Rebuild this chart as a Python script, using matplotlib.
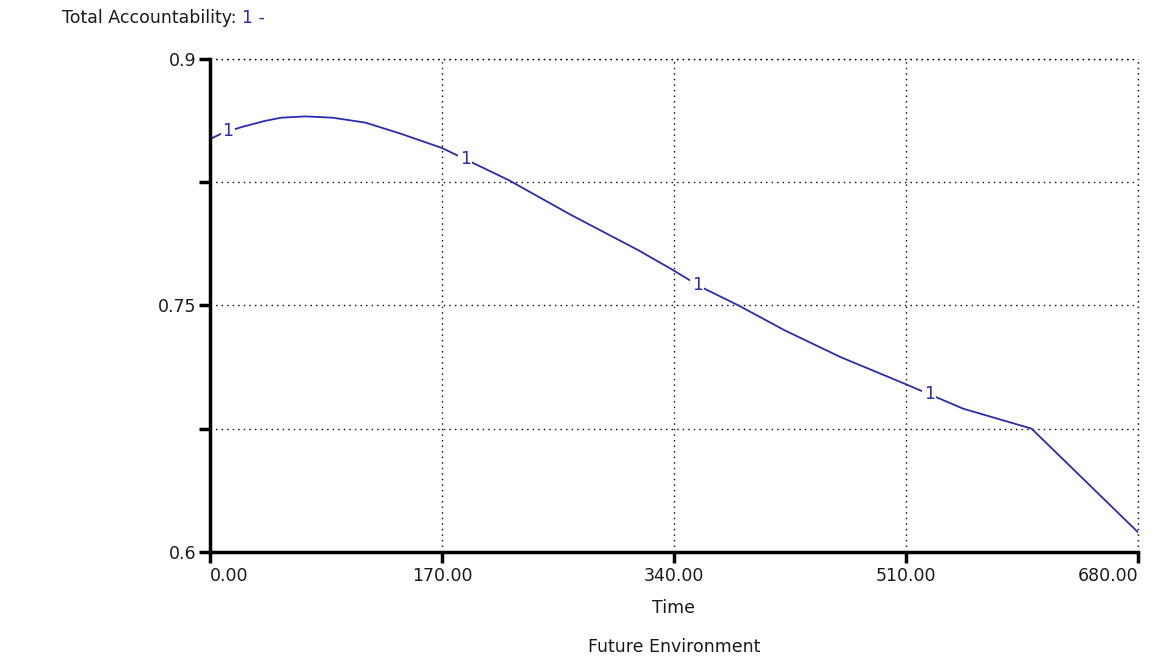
import matplotlib
matplotlib.use("Agg")
import matplotlib.pyplot as plt
import numpy as np

plt.rcParams['font.family'] = ['DejaVu Sans']

# Simulated run: Total Accountability over time
time = [0, 10, 24, 40, 52, 70, 90, 114, 139, 170, 219, 265, 314, 338, 360, 387,
        421, 462, 507, 552, 602, 680]
accountability = [0.851, 0.855, 0.8585, 0.862, 0.864, 0.8648, 0.864, 0.861, 0.8545,
                  0.8456, 0.826, 0.8047, 0.7834, 0.7720, 0.761, 0.750,
                  0.7348, 0.7185, 0.7030, 0.6871, 0.675, 0.612]

# Positions of the "1" series markers along the curve
marker_times = [13, 187, 357, 527]

x_ticks = [0, 170, 340, 510, 680]
x_tick_labels = ["0.00", "170.00", "340.00", "510.00", "680.00"]
y_ticks = [0.6, 0.675, 0.75, 0.825, 0.9]
y_tick_labels = ["0.6", "", "0.75", "", "0.9"]

line_color = "#2b2bb0"
text_color = "#1a1a1a"
fs = 12.5

fig = plt.figure(figsize=(11.52, 6.56), dpi=100)
ax = fig.add_axes([210 / 1152, 1 - 552 / 656, 928 / 1152, (552 - 58.5) / 656])

ax.plot(time, accountability, color=line_color, linewidth=1.3, zorder=3)

# series-number markers interrupting the line
for t in marker_times:
    v = float(np.interp(t, time, accountability))
    ax.text(t, v, "1", color=line_color, fontsize=fs, ha="center", va="center",
            zorder=4, bbox=dict(facecolor="white", edgecolor="none", pad=1.0))

ax.set_xlim(0, 680)
ax.set_ylim(0.6, 0.9)
ax.set_xticks(x_ticks)
ax.set_xticklabels(x_tick_labels)
ax.set_yticks(y_ticks)
ax.set_yticklabels(y_tick_labels)

ax.grid(True, color="black", linestyle=(0, (1, 3)), linewidth=1.0, zorder=1)

for side in ("top", "right"):
    ax.spines[side].set_visible(False)
for side in ("left", "bottom"):
    ax.spines[side].set_linewidth(2.5)
    ax.spines[side].set_color("black")
    ax.spines[side].set_zorder(5)

# dotted frame along the top and right edges
ax.axhline(0.9, color="black", linestyle=(0, (1, 3)), linewidth=1.0, zorder=1, clip_on=False)
ax.axvline(680, color="black", linestyle=(0, (1, 3)), linewidth=1.0, zorder=1, clip_on=False)

ax.tick_params(axis="both", direction="out", length=8, width=2.5, color="black",
               labelsize=fs, labelcolor=text_color)
ax.tick_params(axis="x", pad=3)
ax.tick_params(axis="y", pad=2)

# first and last time labels sit inside the axis ends
xlabels = ax.get_xticklabels()
xlabels[0].set_horizontalalignment("left")
xlabels[-1].set_horizontalalignment("right")

ax.set_xlabel("Time", fontsize=fs, color=text_color, labelpad=10)

fig.text(674 / 1152, 1 - 647 / 656, "Future Environment", fontsize=fs,
         color=text_color, ha="center", va="center")

title_main = fig.text(62 / 1152, 1 - 18 / 656, "Total Accountability: ", fontsize=fs,
                      color=text_color, ha="left", va="center")
fig.canvas.draw()
bb = title_main.get_window_extent()
fig.text(bb.x1 / 1152, 1 - 18 / 656, "1 -", fontsize=fs, color=line_color,
         ha="left", va="center")

fig.savefig("out.png", dpi=100, facecolor="white")
